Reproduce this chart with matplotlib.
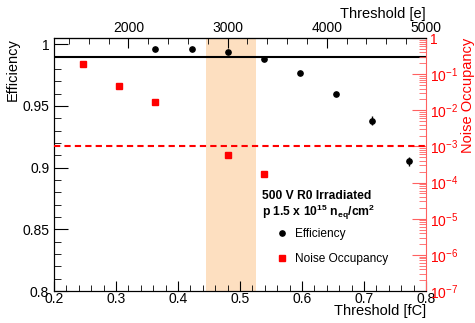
import math
import matplotlib
matplotlib.use("Agg")
import matplotlib.pyplot as plt
from matplotlib.ticker import MultipleLocator, FixedLocator, LogLocator, NullFormatter, FuncFormatter
from matplotlib.lines import Line2D

plt.rcParams['font.family'] = ['Liberation Sans', 'DejaVu Sans']
plt.rcParams['mathtext.fontset'] = 'custom'
plt.rcParams['mathtext.rm'] = 'Liberation Sans'
plt.rcParams['mathtext.it'] = 'Liberation Sans:italic'
plt.rcParams['mathtext.bf'] = 'Liberation Sans:bold'

# Data
eff_thr = [0.363, 0.422, 0.480, 0.539, 0.597, 0.655, 0.713, 0.772]
eff_val = [0.9957, 0.9957, 0.9935, 0.9876, 0.977, 0.960, 0.938, 0.905]
eff_err = [0.0006, 0.0006, 0.0008, 0.001, 0.0012, 0.0015, 0.0035, 0.0035]
noise_thr = [0.247, 0.305, 0.363, 0.480, 0.539]
noise_val = [0.185, 0.047, 0.0167, 5.9e-4, 1.7e-4]
eff_ref = 0.99
noise_ref = 1e-3
band = (0.445, 0.525)
fc_to_e = 6250.0

fig = plt.figure(figsize=(4.75, 3.23), dpi=100)
ax = fig.add_axes([54/475, 32/323, 372/475, 253/323])

ax.axvspan(band[0], band[1], color='#fddfc0', lw=0, zorder=0)
ax.axhline(eff_ref, color='black', lw=1.5, zorder=2)
ax.errorbar(eff_thr, eff_val, yerr=eff_err, fmt='o', color='black',
            ms=3.8, elinewidth=1, capsize=0, zorder=5)

ax2 = ax.twinx()
ax2.set_yscale('log')
ax2.axhline(noise_ref, color='red', lw=1.5, ls=(0, (3, 2)), zorder=3)
ax2.plot(noise_thr, noise_val, 's', color='red', ms=4.5, zorder=5)
ax2.set_ylim(1e-7, 1)

ax.set_xlim(0.2, 0.8)
ax.set_ylim(0.8, 1.005)

def fmt_num(v, pos):
    return ('%.2f' % v).rstrip('0').rstrip('.')

ax.xaxis.set_major_locator(MultipleLocator(0.1))
ax.xaxis.set_minor_locator(MultipleLocator(0.02))
ax.xaxis.set_major_formatter(FuncFormatter(fmt_num))
ax.yaxis.set_major_locator(FixedLocator([0.8, 0.85, 0.9, 0.95, 1.0]))
ax.yaxis.set_minor_locator(MultipleLocator(0.01))
ax.yaxis.set_major_formatter(FuncFormatter(fmt_num))
ax.tick_params(axis='both', which='both', direction='in', labelsize=10, top=False)
ax.tick_params(axis='y', which='major', length=10)
ax.tick_params(axis='y', which='minor', length=5)
ax.tick_params(axis='x', which='major', length=7, pad=1)
ax.tick_params(axis='x', which='minor', length=4)
ax.set_xlabel('Threshold [fC]', fontsize=10.5, loc='right', labelpad=-2)
ax.set_ylabel('Efficiency', fontsize=10.5, loc='top', labelpad=2)
ax.spines['right'].set_visible(False)

def log_fmt(v, pos):
    e = int(round(math.log10(v)))
    if e == 0:
        return '1'
    return r'$10^{%d}$' % e

ax2.yaxis.set_major_locator(LogLocator(base=10, numticks=20))
ax2.yaxis.set_minor_locator(LogLocator(base=10, subs=range(2, 10), numticks=20))
ax2.yaxis.set_major_formatter(FuncFormatter(log_fmt))
ax2.yaxis.set_minor_formatter(NullFormatter())
ax2.tick_params(axis='y', which='both', direction='in', colors='#ff6060', labelcolor='red', labelsize=10)
ax2.tick_params(axis='y', which='major', length=10, pad=3)
ax2.tick_params(axis='y', which='minor', length=5)
ax2.spines['right'].set_color('#ff6060')
ax2.set_ylabel('Noise Occupancy', fontsize=10.5, color='red', loc='top', labelpad=2)

top = ax.secondary_xaxis('top', functions=(lambda x: x * fc_to_e, lambda e: e / fc_to_e))
top.xaxis.set_major_locator(FixedLocator([2000, 3000, 4000, 5000]))
top.xaxis.set_minor_locator(MultipleLocator(200))
top.tick_params(which='both', direction='in', labelsize=10)
top.tick_params(which='major', length=7, pad=2)
top.tick_params(which='minor', length=4)
top.set_xlabel('Threshold [e]', fontsize=10.5, loc='right', labelpad=2)

ax.text(0.559, 0.375, '500 V R0 Irradiated', transform=ax.transAxes,
        fontsize=8.7, fontweight='bold', va='center', ha='left')
ax.text(0.559, 0.31, r'p 1.5 x 10$^{\mathbf{15}}$ n$_{\mathbf{eq}}$/cm$^{\mathbf{2}}$', transform=ax.transAxes,
        fontsize=8.7, fontweight='bold', va='center', ha='left')

handles = [Line2D([], [], marker='o', color='black', ls='none', ms=3.8),
           Line2D([], [], marker='s', color='red', ls='none', ms=4.5)]
ax.legend(handles, ['Efficiency', 'Noise Occupancy'], loc='upper left',
          bbox_to_anchor=(0.565, 0.29), frameon=False, fontsize=8.6,
          labelspacing=1.05, handletextpad=0.5, handlelength=1.2)

fig.savefig('out.png', dpi=100)
